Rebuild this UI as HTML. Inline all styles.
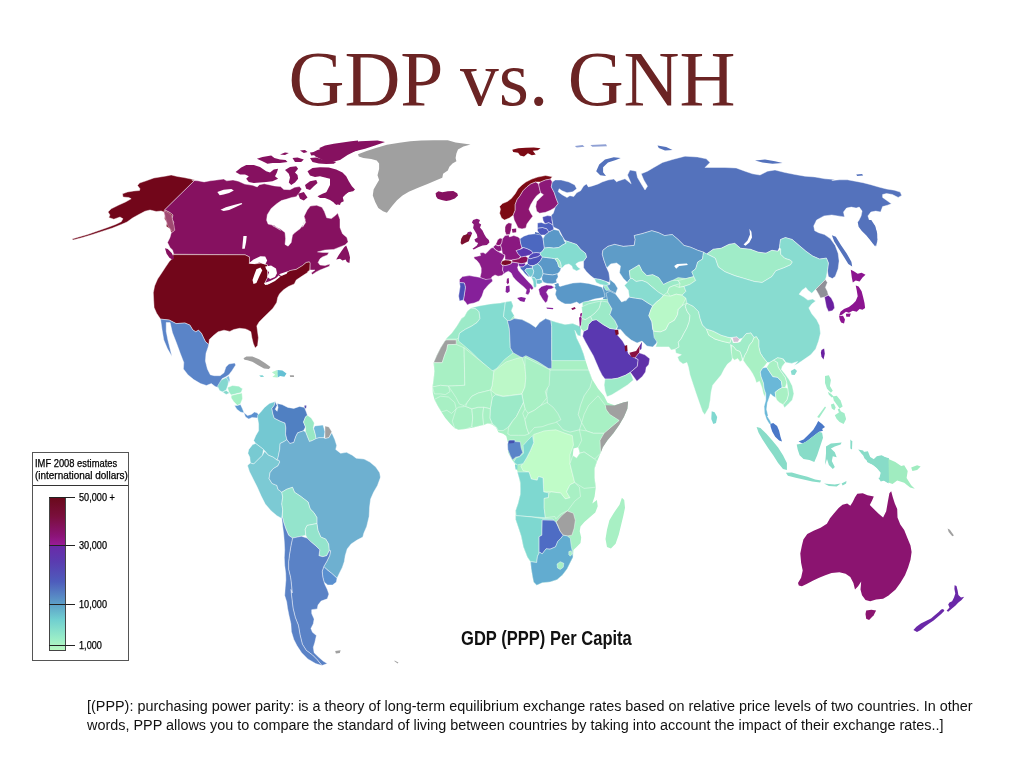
<!DOCTYPE html>
<html lang="en">
<head>
<meta charset="utf-8">
<title>GDP vs. GNH</title>
<style>
html,body{margin:0;padding:0;background:#fff;}
body{width:1024px;height:768px;position:relative;overflow:hidden;font-family:"Liberation Sans",sans-serif;}
#title{position:absolute;left:0;top:33px;width:1024px;text-align:center;font-family:"Liberation Serif",serif;font-size:77.5px;line-height:92px;color:#6b2424;white-space:nowrap;}
#map{position:absolute;left:0;top:0;width:1024px;height:768px;filter:blur(0.35px);}
#legend{position:absolute;left:32px;top:452px;width:97px;height:209px;border:1px solid #555;box-sizing:border-box;background:#fff;}
#legend .hd{position:absolute;left:0;top:0;width:95px;height:33px;border-bottom:1px solid #333;font-size:10px;line-height:12px;color:#111;padding:4px 0 0 3px;box-sizing:border-box;white-space:nowrap;}
#legend .ht{position:absolute;left:2px;font-size:10px;line-height:12px;color:#000;white-space:nowrap;transform-origin:0 0;-webkit-text-stroke:0.25px #000;}
#legend .bar{position:absolute;left:16px;top:44px;width:17px;height:154px;border:1px solid #444;box-sizing:border-box;
background:linear-gradient(to bottom,#6a0a1c 0%,#7a0f3c 12%,#8c1478 25%,#981c98 31%,#6a2aa8 31.2%,#5a3cb0 42%,#4e5cbc 55%,#5c9cc8 69%,#70cfd0 80%,#98ecc8 92%,#b8f8c0 100%);}
#legend .tk{position:absolute;left:16px;width:26px;height:1px;background:#222;}
#legend .lb{position:absolute;left:46px;font-size:10.4px;line-height:12px;color:#000;white-space:nowrap;-webkit-text-stroke:0.25px #000;transform-origin:0 50%;transform:scaleX(0.88);}
#cap{position:absolute;left:461px;top:626.5px;font-size:19.5px;line-height:22px;font-weight:bold;color:#111;white-space:nowrap;transform-origin:0 0;transform:scaleX(0.849);}
.note{position:absolute;left:87px;font-size:14px;line-height:19px;color:#111;white-space:nowrap;transform-origin:0 0;}
</style>
</head>
<body>
<div id="title">GDP vs. GNH</div>
<svg id="map" width="1024" height="768" viewBox="0 0 1024 768" stroke-linejoin="round">
<polygon fill="#9ceac8" points="582.6,302 608,299.1 615.8,324.5 592.3,324.5 582.6,314.7"/>
<polygon fill="#5e9cc8" points="603.1,284.4 614.8,284.4 615.8,299.1 603.1,299.1"/>
<polygon fill="#a8f0c4" points="655,272 700,272 700,300 690,306 655,300"/>
<polygon fill="#72061a" stroke="#ffffff" stroke-opacity="0.6" stroke-width="0.7" points="195,180 190,178.8 183.8,177.5 177.5,176.5 171.2,175 166.2,176 160,177 153.8,178 146.2,180.8 139.5,183 137.5,185.5 140,188.8 139.5,190.5 133.8,191 127.5,192 122.5,193.8 123,197 128.8,197.5 131.2,198.8 125.5,202 118.8,205 111.2,208.8 108,212 110,215 108.8,217.5 113.8,219.2 120,217 123,218.8 121.2,221.8 115.5,224.5 107.5,227.5 97.5,231 87.5,234.5 78.8,237 72,239 73,240 82.5,237.5 92.5,234.5 102.5,231.2 112.5,228 121.2,224.5 127,222 132.5,218 138.8,214.5 145,211.2 150,210 156.2,211.5 161.2,211 163.8,212 165,215 164.5,218.8 167,222.5 166.2,226.2 170,228.8 171.2,232.5 173.8,233 174.5,230 173,226.2 173.8,222.5 172,218.8 173,215 170,212.5 166.2,210.5 164.5,210"/>
<polygon fill="#861160" stroke="#ffffff" stroke-opacity="0.6" stroke-width="0.7" points="191.9,180.3 197.8,180.8 204.1,181.9 210.3,180.8 216.6,180 223.6,179.1 226.7,180.8 233,180 238.4,181.2 244.7,184.1 252.5,185.3 257.2,186.9 259.5,184.7 264.2,183.8 268.9,184.7 274.4,185.9 280.6,186.6 283.8,189.4 290,189.7 294.7,187.3 299.4,186.6 301.7,188.9 299.4,192.8 296.2,196.7 291.6,197.5 286.9,199.1 281.4,200.6 276.7,203.8 271.2,208.4 267.3,214.7 266.6,220.2 268.1,224.1 274.4,225.6 280.6,230.3 272.5,225.6 280,228.8 285,232.5 285.6,238.8 285,244.4 288.1,246.2 291.2,242.5 292.5,235 295,232.5 300,228.8 303.8,223.8 305,218.8 302.5,227.2 305.6,222.5 304.1,216.2 307.2,210 310.3,206.1 316.6,205.3 322,207.2 324.4,211.6 326.7,217.8 331.4,218.6 335.3,215.5 337.7,213.1 340,219.4 340,227.5 342.5,233.8 346.9,237.5 348.1,241.9 345,245 340,246.9 333.8,249.4 325,250 317.5,251.9 323.1,252.5 328.8,252.5 327.5,255 322.5,256.9 320,258.8 318.1,262.5 320,265 325,265.6 330,264 329.4,266.2 325,268.1 320,270 316.2,271.9 312.5,274.4 311.2,273.1 315,270 310,270 310,263.1 309.4,261.9 306.2,262.5 302.5,265.6 296.2,269.4 290,270.6 285.6,273.1 280,276.2 278.1,277.5 272.5,281.2 267.5,284.4 264.4,283.8 267.5,277.5 267.5,267.5 267.5,265 266.2,264.4 261.2,263.1 255,263.8 249.4,263.1 249.4,256.9 245,254.8 173.8,254.2 172.5,250 170,247.5 167.5,242.5 170,237.5 171.2,233 174.5,230 173,226.2 173.8,222.5 172,218.8 173,215 170,212.5 166.2,210.5 164.5,210 195,180"/>
<polygon fill="#72061a" stroke="#ffffff" stroke-opacity="0.6" stroke-width="0.7" points="173.2,254.6 172.2,258.6 169.3,261.5 165.4,267.3 161.5,273.2 157.6,279.1 154.6,285.9 153.3,292.7 153.7,300.5 154.1,307.4 156.6,313.2 160.5,319.1 169.3,320.1 176.1,323.6 184.9,323 189.8,325 192.7,329.8 195.7,331.8 198.6,330.2 201.5,333.4 203.5,337.7 205.4,341.6 208.8,344.5 209.3,339.6 213.2,335.7 218.1,331.8 224,330.2 229.8,331.4 233.8,329.5 239.6,328.3 245.5,328.9 248.4,330.2 250.9,331.8 251.9,337.7 253.3,343.5 255.2,348 257.6,345.5 258.4,337.7 257.6,331.8 256.8,325.9 259.1,322 263,318.1 267.9,313.2 272.8,308.4 276.7,302.5 277.7,297.6 279.6,293.7 283.6,289.8 288.4,286.5 294.3,283.9 296.2,280 302.1,276.1 308,272.2 307.5,271.9 309.8,270 310,263.1 309.4,261.9 306.2,262.5 302.5,265.6 296.2,269.4 290,270.6 285.6,273.1 280,276.2 278.1,277.5 272.5,281.2 267.5,284.4 264.4,283.8 267.5,277.5 267.5,267.5 267.5,265 266.2,264.4 261.2,263.1 255,263.8 249.4,263.1 249.4,256.9 245,254.8"/>
<polygon fill="#ffffff" points="248.6,263.5 253.5,259.6 260.4,256.2 265.2,256.6 267.2,260.5 265.2,264.5 259.4,262.5 254.5,264.1"/>
<polygon fill="#ffffff" points="256.4,269.3 260.4,267.4 262.3,270.3 259.4,276.2 256.4,283 253.5,284 252.5,280.1 254.5,274.2"/>
<polygon fill="#ffffff" points="265.2,266.4 271.1,265.4 276,268.4 277,273.2 275,277.1 270.1,279.1 267.2,277.1 269.1,272.3 266.2,269.3"/>
<polygon fill="#ffffff" points="264.3,283 270.1,281.1 276,278.1 278.9,275.2 279.9,277.1 275,281.1 269.1,284 265.2,285"/>
<polygon fill="#ffffff" points="278.9,274.2 284.8,272.3 287.7,271.3 286.7,273.8 281.8,275.8"/>
<polygon fill="#ffffff" points="243.4,236.1 246.7,236.1 246.1,242 244.7,248.8 242.2,248.8 242.8,242"/>
<polygon fill="#861160" points="346.2,245.6 348.8,252.5 350,257.5 349.4,263.1 346.9,261.9 345.6,259.4 342.5,260.6 340,258.8 336.2,259.4 338.8,255 341.9,250.6 344.4,246.9"/>
<polygon fill="#5a84c8" stroke="#ffffff" stroke-opacity="0.6" stroke-width="0.7" points="160.5,319.1 160.7,320.1 162.1,330 163.8,340 167.5,348.8 172,356.6 170.1,348.8 167.9,340 166.2,331.2 166.2,322.4 170.1,322.6 172.4,332.6 176.3,342.5 180.4,353.7 183.8,362.5 183.4,368.9 187.9,374.8 193.7,379.6 200.5,383.6 206.4,385.5 211.3,383.6 215.2,386.5 218.1,387.5 220.5,383.6 222,378.7 225.9,376.7 228.9,374.8 231.8,370.9 235.7,365 234.7,363 228.9,364 225.9,367 224,372.8 220.1,375.7 214.2,375.7 210.3,374.8 207.4,368.9 205.4,361.1 206,353.3 208,347.4 208.8,344.5 205.4,341.6 203.5,337.7 201.5,333.4 198.6,330.2 195.7,331.8 192.7,329.8 189.8,325 184.9,323 176.1,323.6 169.3,320.1"/>
<polygon fill="#a0a0a0" points="243.5,358.2 246.4,356.6 252.3,356.6 259.1,359.3 265,362.9 270.5,367.1 268.9,368.9 264,368.5 258.2,365.2 252.3,361.7 247.4,360.3 244.5,359.7"/>
<polygon fill="#a04a72" stroke="#f0c0d8" stroke-opacity="0.8" stroke-width="0.6" points="163.9,210.8 167.8,212.3 171.7,215.5 172.8,220.9 174.1,225.6 174.8,230.3 172.5,232.2 170.2,228.8 167.8,225.6 166.2,220.9 165,216.2"/>
<polygon fill="#861160" points="165,248.3 167.8,249.1 171.7,253 174.1,257.7 172.8,260 169.4,257.7 166.6,253.8"/>
<polygon fill="#ffffff" points="217.3,192 223.6,189.7 231.4,188.9 233.8,190.5 229.1,193.1 223.6,194.4 219.7,195.2"/>
<polygon fill="#ffffff" points="220.5,209.7 225.9,207.2 233.8,205 241.6,203 242.3,204.1 235.3,207.2 229.1,210 223.6,211.1"/>
<polygon fill="#a0a0a0" points="358,154.2 366.6,151.1 375.9,148 386.9,144.8 399.4,142.8 410.3,141.2 421.2,140.6 433.8,140.2 447.8,140.3 455.6,142.5 470.5,144.4 463.4,146.4 458,149.5 456.4,153.4 455.6,158.1 456.4,161.2 452.5,163.6 449.4,166.7 447.8,170.6 443.1,173.8 442.3,177.7 436.9,180 427.5,183.9 418.1,187.8 408.8,191.7 402.5,195.6 397,200.3 392.3,205.8 386.9,212.8 383,211.2 378.3,208.1 375.2,201.9 372.8,195.6 373.6,189.4 376.7,183.9 379.1,180 377.5,175.3 379.1,169.1 379.1,163.6 376.7,160.5 371.2,158.9 363.4,158.1 358.8,156.6"/>
<polygon fill="#861160" points="435.6,193.3 438.4,191.2 442.3,192.2 447.8,191.2 453.3,190.9 457.2,193.3 458,195.6 454.8,198.4 450.2,200.3 446.2,201.1 441.6,200 437.7,198.8 436.1,196.4"/>
<polygon fill="#861160" points="235.6,171.9 241.2,167.5 246.2,165 253.8,165 260,166.9 266.2,171.2 270,172.5 273.8,169.4 278.1,168.8 276.9,172.5 275,176.2 278.1,178.8 272.5,181.2 266.2,181.9 260,182.5 253.8,183.1 248.8,181.9 246.2,178.8 248.8,176.2 245,174.4 240,174.4"/>
<polygon fill="#861160" points="256.9,158.8 262.5,156.9 271.2,155.6 274.4,158.1 280,159.4 285.6,160 287.5,161.9 280,163.1 272.5,163.1 267.5,163.8 262.5,161.2"/>
<polygon fill="#861160" points="280,154.4 285,152.5 288.8,153.1 285,155"/>
<polygon fill="#861160" points="285,170 290,166.9 296.2,166.2 298.1,168.8 295,172.5 297.5,175 298.1,178.8 295,182.5 291.2,185 288.8,182.5 290,177.5 288.8,173.8"/>
<polygon fill="#861160" points="292.5,158.1 297.5,157.5 303.8,159.4 301.2,161.9 295,161.9"/>
<polygon fill="#861160" points="300,150.6 305,150 307.5,151.9 303.8,153.1"/>
<polygon fill="#861160" points="310,152.5 315,151.9 316.2,155 311.2,155.6"/>
<polygon fill="#861160" points="310,158.1 316.2,157.5 322.5,159.4 330,160.6 336.2,161.9 333.8,163.8 326.2,164 318.8,163.5 312.5,161.9"/>
<polygon fill="#861160" points="319.4,148.1 325,145.6 333.8,143.8 342.5,142.5 351.2,141.2 358,140.6 358,150 352.5,151.9 346.2,153.8 340,155.6 335,157.5 330,156.9 325,155.6 321.2,152.5"/>
<polygon fill="#861160" points="307.5,171.2 312.5,168.1 320,167.2 328.8,167.5 336.2,169.4 342.5,172.5 346.2,176.2 348.8,181.2 351.9,186.2 355,189.4 353.1,191.2 348.8,191.9 346.2,193.8 342.5,191.2 337.5,188.8 336.2,185 333.8,181.2 330,178.8 325,177.5 320,176.2 315,176.9 310,175.6"/>
<polygon fill="#861160" points="305,185 310,181.2 316.2,180 317.5,183.1 313.8,186.2 310,190 306.2,188.8"/>
<polygon fill="#861160" points="298.1,193.8 303.8,191.9 307.5,197.5 303.8,200.6 300,198.8"/>
<polygon fill="#861160" points="317.5,196.2 322.5,193.8 328.8,191.2 333.8,190.6 338.8,192.5 342.5,196.2 343.8,201.2 340,203.1 336.2,205 333.8,202.5 330,200 325,198.1 320,198.1"/>
<polygon fill="#861160" points="317.5,150 330,146.2 342.5,143.8 360,141.2 377.5,140.5 385,142 375,145.5 365,148.8 355,151.2 347.5,155 340,160 330,162.5 322.5,160 315,156.2 312.5,152.5"/>
<polygon fill="#861160" points="330,172.5 337.5,171.2 343.8,176.2 347.5,183.8 353.8,190 347.5,192.5 342.5,197.5 340,205 335,203.8 330,197.5 326.2,192.5 330,185"/>
<polygon fill="#84d8d0" stroke="#ffffff" stroke-opacity="0.6" stroke-width="0.7" points="217.5,386.2 221.2,380 226.2,377.5 228.8,380 228,385 226.2,390 222.5,392 219.5,390.5"/>
<polygon fill="#7fc0e0" stroke="#ffffff" stroke-opacity="0.6" stroke-width="0.7" points="226.2,377.5 228.8,375.8 230,380 228.8,383.8 228,380"/>
<polygon fill="#9cecc8" stroke="#ffffff" stroke-opacity="0.6" stroke-width="0.7" points="227.5,387.5 232.5,385.5 238.8,386.2 242.5,388.8 241.2,392.5 236.2,393.8 231.2,395 228.8,392"/>
<polygon fill="#84d8cc" stroke="#ffffff" stroke-opacity="0.6" stroke-width="0.7" points="222.5,392 226.2,390.5 229.5,393 226.2,394.5"/>
<polygon fill="#a4f0c4" stroke="#ffffff" stroke-opacity="0.6" stroke-width="0.7" points="231.2,395.5 236.2,394.2 242,393 242.5,398.8 240.5,403.8 237.5,405.5 233.8,401.8 231.2,398"/>
<polygon fill="#5c98d0" stroke="#ffffff" stroke-opacity="0.6" stroke-width="0.7" points="234.5,405.5 237.5,405.5 240.5,404.5 242.5,408.8 244.2,413 240.5,412 237,409.5"/>
<polygon fill="#5c90d0" stroke="#ffffff" stroke-opacity="0.6" stroke-width="0.7" points="243.8,412.5 247.5,415.5 251.2,414.5 254.5,412 257.5,413 258.8,415.5 257.5,418 252,417.5 248.8,419 245.5,417"/>
<polygon fill="#74d0d0" points="259.2,375.5 262.5,375.2 264.1,376.7 260.9,377.1"/>
<polygon fill="#b4f4cc" points="271.9,372.2 277.1,369.9 278.1,373.6 277.3,377.5 272.3,377.1 275.2,374.8"/>
<polygon fill="#64c0d4" points="277.5,369.9 282.4,370.5 286.5,373.6 284.4,376.7 280.1,375.9 277.7,377.5 277.7,373.6"/>
<polygon fill="#a0a0a0" points="289.8,375.2 293.8,375.2 294.1,377.1 290.2,377.1"/>
<polygon fill="#5a50b0" points="304.5,405.4 306.4,405.4 306.1,408.4 304.5,408"/>
<polygon fill="#74c8d2" stroke="#ffffff" stroke-opacity="0.6" stroke-width="0.7" points="257.6,415.2 260.5,412.3 264.5,407.4 269.3,403.5 275.2,401.5 274.2,405.4 271.9,408.4 272.7,413.2 274.2,418.1 280.1,421.1 285,423 285.9,427.9 285.5,433.8 286.9,439.6 284,441.6 280.1,443.5 279.7,449.4 278.1,457.2 277.1,460.1 273.2,457.2 268.4,455.2 264.5,450.4 259.6,446.4 255.7,443.5 253.7,440.6 255.7,435.7 258.6,430.8 258.6,424 257.6,418.1"/>
<polygon fill="#5080c2" stroke="#ffffff" stroke-opacity="0.6" stroke-width="0.7" points="275.2,401.5 277.1,405.4 275.2,409.3 277.1,411.3 278.1,407.4 277.1,403.5 282,404.5 287.9,407.4 293.8,408.4 299.6,406.4 304.5,407.4 306.4,412.3 307.4,415.2 305.5,417.1 303.5,422 305.5,426.9 303.5,430.8 297.7,432.8 295.7,436.7 293.8,442.5 289.8,443.5 286.9,439.6 285.5,433.8 285.9,427.9 285,423 280.1,421.1 274.2,418.1 272.7,413.2 271.9,408.4 274.2,405.4"/>
<polygon fill="#98e8c4" stroke="#ffffff" stroke-opacity="0.6" stroke-width="0.7" points="307.4,415.2 311.3,418.1 314.3,423 313.3,427.9 315.2,433.8 316.2,438.6 312.3,440.6 309.4,441.6 307.4,436.7 305.5,431.8 305.5,426.9 303.5,422 305.5,417.1"/>
<polygon fill="#70b8d8" stroke="#ffffff" stroke-opacity="0.6" stroke-width="0.7" points="314.8,425.9 323,425 325,431.8 324,437.7 319.1,437.7 316.2,438.6 315.2,433.8 313.7,428.3"/>
<polygon fill="#a0a0a0" stroke="#ffffff" stroke-opacity="0.6" stroke-width="0.7" points="325,425.9 328.9,426.9 331.8,431.8 328.9,437.7 325,438.6 325,431.8"/>
<polygon fill="#78cad2" stroke="#ffffff" stroke-opacity="0.6" stroke-width="0.7" points="248.8,449.4 252.7,444.5 255.7,443.5 259.6,446.4 263.5,449.4 262.5,455.2 257.6,460.1 253.7,464 250.4,463 249.8,457.2 247.9,453.3"/>
<polygon fill="#7ccad4" stroke="#ffffff" stroke-opacity="0.6" stroke-width="0.7" points="247.9,465 250.4,463 253.7,464 257.6,460.1 262.5,455.2 264.5,451.3 268.4,455.2 273.2,457.2 277.1,460.1 278.8,460 279.8,462 277.9,465.9 273,468.8 270,472.7 269.1,478.6 272,483.4 276.9,485.4 277.9,489.3 281.8,492.2 282.7,497.1 281.8,503.9 282.7,509.8 281.8,518.6 276.9,515.7 271,510.8 265.2,503.9 261.2,496.1 257.3,487.3 253.4,479.5 249.5,471.7 247.6,465.9"/>
<polygon fill="#6eb0d0" stroke="#ffffff" stroke-opacity="0.6" stroke-width="0.7" points="289.8,443.5 293.8,442.5 295.7,436.7 297.7,432.8 303.5,430.8 305.5,431.8 307.4,436.7 309.4,441.6 312.3,440.6 316.2,438.6 319.1,437.7 324,437.7 325,438.6 328.9,437.7 331.8,432.8 334.8,439.6 336.7,445.5 335.7,449.4 340.6,453.3 346.5,452.3 352.3,455.2 356.2,458.2 364.1,459.1 369.9,462.1 375.8,467 379.7,472.8 380.7,478.7 380.4,477.6 377.5,485.4 373.6,492.2 370.6,499.1 369.6,506.9 369.1,516.6 366.7,526.4 363.8,533.2 362.8,537.1 357,540.1 351.1,544 347.2,548.9 345.2,555.7 344.3,561.6 342.3,567.4 339.4,573.3 337,578.2 331.6,573.3 326.7,569.4 323.8,566.4 326.7,561.6 329.6,555.7 330.6,550.8 329.2,550.8 328.6,544 325.7,539.1 320.8,537.1 317.9,530.3 316.9,523.5 316.9,517.6 314,512.7 310.1,508.8 308.1,502 300.3,496.1 294.5,492.2 292.5,487.3 286.6,489.3 281.8,492.2 277.9,489.3 276.9,485.4 272,483.4 269.1,478.6 270,472.7 273,468.8 277.9,465.9 279.8,462 278.8,460 277.1,460.1 278.1,457.2 279.7,449.4 280.1,443.5 284,441.6 286.9,439.6"/>
<polygon fill="#94e4cc" stroke="#ffffff" stroke-opacity="0.6" stroke-width="0.7" points="281.8,492.2 286.6,489.3 292.5,487.3 294.5,492.2 300.3,496.1 308.1,502 310.1,508.8 314,512.7 316.9,517.6 316.9,523.5 312,524.5 307.1,525.4 305.2,529.3 305.8,535.2 301.3,536.2 297.4,537.1 292.5,538.1 288.6,535.2 285.7,528.4 283.7,522.5 282.3,516.6 282.7,509.8 281.8,503.9 282.7,497.1"/>
<polygon fill="#94e4cc" stroke="#ffffff" stroke-opacity="0.6" stroke-width="0.7" points="305.8,535.2 305.2,529.3 307.1,525.4 312,524.5 316.9,523.5 317.9,530.3 320.8,537.1 325.7,539.1 328.6,544 329.2,550.8 326.7,555.7 322.8,556.7 318.9,555.7 319.8,549.8 315.9,545.9 311.1,542 307.1,538.1"/>
<polygon fill="#5a90d0" stroke="#ffffff" stroke-opacity="0.6" stroke-width="0.7" points="323.8,566.4 326.7,569.4 331.6,573.3 337,578.2 336.4,582.1 332.5,585 327.7,585 324.1,582.1 322.8,577.2 322.2,571.3"/>
<polygon fill="#5a82c6" stroke="#ffffff" stroke-opacity="0.6" stroke-width="0.7" points="292.5,538.1 297.4,537.1 301.3,536.2 307.1,538.1 311.1,542 315.9,545.9 319.8,549.8 318.9,555.7 322.8,556.7 326.7,555.7 329.2,550.8 330.6,550.8 329.6,555.7 326.7,561.6 323.8,566.4 322.2,571.3 322.8,577.2 324.1,582.1 325,584.7 327.3,589.4 328.9,594.1 327.3,598.8 321.1,601.1 318,605 317.2,608.9 311.7,609.7 311.7,613.6 314.1,619.1 313.3,623.8 310.9,628.4 312.5,632.3 316.4,635.5 314.8,642.5 313.3,647.2 314.1,652.7 318.8,657.3 323.4,661.2 327.3,663.6 321.9,665.6 317.2,659.7 312.5,655 306.2,650.3 302.3,644.1 300,634.7 298.4,625.3 295.3,617.5 293,608.1 291.9,598.8 290.9,589.4 292.1,592.8 291.5,585 290.5,577.2 288.6,569.4 288.6,561.6 289.6,553.8 290.9,545.9"/>
<polygon fill="#5a82c6" stroke="#ffffff" stroke-opacity="0.6" stroke-width="0.7" points="281.8,518.6 282.3,516.6 283.7,522.5 285.7,528.4 288.6,535.2 292.5,538.1 290.9,545.9 289.6,553.8 288.6,561.6 288.6,569.4 290.5,577.2 291.5,585 292.1,592.8 290.9,589.4 291.9,598.8 293,608.1 295.3,617.5 298.4,625.3 300,634.7 302.3,644.1 306.2,650.3 312.5,655 317.2,659.7 321.9,665.6 315.6,663.6 307.8,658.9 301.6,652.7 296.9,645.6 293.8,639.4 291.4,631.6 290.9,623.8 289.1,615.9 287.5,608.1 286.7,601.9 284.7,595.6 285.2,587.8 285.9,580 285.7,573.3 284.7,565.5 284.3,557.7 284.7,549.8 284.3,542 283.7,534.2 282.7,526.4"/>
<polygon fill="#a0a0a0" points="335.2,651.1 340.6,650.3 339.8,653.1 335.9,653.4"/>
<polygon fill="#a0a0a0" points="394.5,660.5 398.4,662.5 397.7,663.6 394.5,661.2"/>
<polygon fill="#7c0a14" stroke="#ffffff" stroke-opacity="0.6" stroke-width="0.7" points="500.5,209.3 499.6,206.4 502.5,203.5 507.4,201.5 511.3,198.6 515.2,193.7 518.1,188.8 522,184.9 525.9,182 531.8,179.1 537.7,177.1 545.5,175.5 552.3,176.7 550.4,179.1 545.5,180 540.6,182 535.7,182 530.8,183.9 526.9,186.9 523,190.8 520.1,195.7 517.1,199.6 515.2,204.5 515.2,210.3 513.2,215.2 509.3,218.1 504.5,220.1 501.5,218.1 499.6,213.2"/>
<polygon fill="#8c1570" stroke="#ffffff" stroke-opacity="0.6" stroke-width="0.7" points="515.2,204.5 517.1,199.6 520.1,195.7 523,190.8 526.9,186.9 530.8,183.9 535.7,182 538.6,183.9 539.6,188.8 540.6,192.7 536.7,195.7 533.8,199.6 530.8,204.5 528.9,209.3 530.8,213.2 532.8,216.2 529.8,220.1 526.9,224 525.9,227.9 522,228.9 518.1,227.9 516.2,224 514.2,220.1 513.2,215.2 515.2,210.3"/>
<polygon fill="#8c1878" stroke="#ffffff" stroke-opacity="0.6" stroke-width="0.7" points="538.6,183.9 540.6,182 545.5,180 550.4,179.1 552.3,182 551.3,186.9 554.3,192.7 556.2,198.6 558.2,203.5 555.2,207.4 550.4,210.3 545.5,212.3 539.6,213.2 536.7,211.3 535.7,206.4 536.7,201.5 540.6,197.6 543.5,194.7 540.6,192.7 539.6,188.8"/>
<polygon fill="#7c0a14" points="512.3,149.8 518.1,148.2 525.9,147.8 533.8,147.4 540.6,148.2 537.7,150.2 532.8,150.7 535.7,154.6 531.8,155.2 527.9,153.3 524,156.6 520.1,155.6 518.1,152.7 513.2,152.1"/>
<polygon fill="#8a1878" points="473.1,220 476.9,218.8 480,220 478.8,223.1 481.2,224.4 480,227.5 482.5,230.6 484.4,234.4 486.2,237.5 488.8,240 489.4,242.5 486.9,245 482.5,245.6 478.1,247.2 473.8,249.4 472.5,248.8 476.9,245.6 478.1,243.1 475.6,241.9 474.4,239.4 477.5,237.5 476.9,234.4 475,231.2 473.1,228.1 473.8,224.4 471.9,222.5"/>
<polygon fill="#7c1030" points="460.6,243.1 461.2,238.8 463.1,235.6 466.2,234.4 468.8,231.9 471.9,232.8 471.2,235.6 470,238.1 468.8,241.2 465,243.1 461.9,244.8"/>
<polygon fill="#8a1878" points="467.5,232.2 470.6,231.5 472.2,233.5 470.6,235 468.1,234.8"/>
<polygon fill="#8a1c88" stroke="#ffffff" stroke-opacity="0.6" stroke-width="0.7" points="473.8,256.9 477.5,256.2 480.6,255.6 480,253.1 483.1,252.5 485.6,253.8 488.8,250.6 491.2,248.1 493.1,247.5 495.6,250 498.8,251.9 502.5,253.8 505,255 503.8,258.1 501.9,261.2 501.2,263.8 503.1,266.2 502.5,270 504.4,273.1 501.9,275.6 498.1,276.2 495,275 491.9,276.9 490.6,280.6 486.9,280 483.1,278.8 480,277.5 481.2,272.5 481.2,268.1 479.4,263.8 476.9,260.6 474.4,258.8"/>
<polygon fill="#8a1c88" points="506.9,278.8 508.8,278.1 509,282.5 507.8,284.4 506.6,282.5"/>
<polygon fill="#86209a" points="506,286.2 509.4,285.6 509.8,291.2 507.5,293.1 505.6,291.9"/>
<polygon fill="#8a1070" stroke="#ffffff" stroke-opacity="0.6" stroke-width="0.7" points="497.5,240 500,238.1 502.5,238.8 501.9,242.5 500.6,245 498.1,245.6 495.6,244.4 496.9,241.9"/>
<polygon fill="#8a1880" stroke="#ffffff" stroke-opacity="0.6" stroke-width="0.7" points="493.1,246.9 495.6,244.8 498.1,245.9 500.6,245.2 501.5,248.1 501.9,250.6 498.8,251.5 495.6,249.8"/>
<polygon fill="#8a1880" stroke="#ffffff" stroke-opacity="0.6" stroke-width="0.7" points="502.5,238.8 505,235.6 508.8,235 509.4,236.9 513.8,235.6 518.1,236.9 520,238.8 520.6,243.1 521.9,247.5 520,249.4 516.2,250.6 518.1,253.8 520.6,256.2 518.8,258.8 515.6,259.4 511.9,260 508.1,260 505,259.8 505,255 502.5,253.8 501.9,250.6 501.5,248.1 500.6,245.2 501.9,242.5"/>
<polygon fill="#8a1570" stroke="#ffffff" stroke-opacity="0.6" stroke-width="0.7" points="505,226.9 506.2,224.4 508.8,222.8 511.9,223.5 511.5,226.9 511,230.6 509.8,234.4 506.2,234.8 505,231.2"/>
<polygon fill="#8a1570" points="511.9,229 516.2,228.5 516.2,232.2 512.5,232.8"/>
<polygon fill="#7c0a28" stroke="#ffffff" stroke-opacity="0.6" stroke-width="0.7" points="501.9,261.2 505,260 508.8,260.2 511.9,261.2 511.2,263.8 508.1,265 505,265.6 502.5,265 501,263.8"/>
<polygon fill="#8a1058" stroke="#ffffff" stroke-opacity="0.6" stroke-width="0.7" points="511.9,260 515.6,259.4 518.8,258.8 521.2,256.9 525.6,256.2 528.1,258.1 527.5,261.2 525,263.1 521.2,263.8 518.1,263.1 515,262.5 512.1,262.2"/>
<polygon fill="#5a38b0" stroke="#ffffff" stroke-opacity="0.6" stroke-width="0.7" points="516.2,250.6 520,249.4 523.8,247.5 527.5,248.8 531.2,250.6 533.1,253.1 530,255 525.6,256.2 521.2,256.9 518.1,253.8"/>
<polygon fill="#4c68c0" stroke="#ffffff" stroke-opacity="0.6" stroke-width="0.7" points="520,238.8 523.8,236.2 528.8,234.4 535,233.8 541.2,235 543.1,238.8 543.8,243.8 544.4,248.1 542.5,251.2 540,253.1 536.2,252.5 533.1,253.1 531.2,250.6 527.5,248.8 523.8,247.5 521.9,247.5 520.6,243.1"/>
<polygon fill="#5048b8" stroke="#ffffff" stroke-opacity="0.6" stroke-width="0.7" points="530,255 533.1,253.1 536.2,252.5 540,253.1 540.6,255 537.5,256.9 533.8,257.8 530.6,258.8 528.1,258.1"/>
<polygon fill="#4c50b8" stroke="#ffffff" stroke-opacity="0.6" stroke-width="0.7" points="528.1,258.1 530.6,258.8 533.8,257.8 537.5,256.9 540.6,255 542.5,256.9 540.6,260.6 537.5,263.8 533.8,265.6 530,265.6 527.5,263.8 527.5,261.2"/>
<polygon fill="#6a28a8" stroke="#ffffff" stroke-opacity="0.6" stroke-width="0.7" points="518.1,263.1 521.2,263.8 525,263.1 525.6,265 523.1,266.9 520,266.9 518.5,265"/>
<polygon fill="#4c68c0" stroke="#ffffff" stroke-opacity="0.6" stroke-width="0.7" points="520,266.9 523.1,266.9 525.6,265 527.5,263.8 530,265.6 532.5,266.2 532.5,268.1 528.8,268.5 526.2,268.8 525,270.6 527.5,273.8 530,276.9 528.1,276.5 525,273.8 522.5,270.6 520.6,268.8"/>
<polygon fill="#74c8d0" stroke="#ffffff" stroke-opacity="0.6" stroke-width="0.7" points="526.2,268.8 528.8,268.5 532.5,268.1 533.8,271.2 533.1,274.4 531.2,276.9 530,276.9 527.5,273.8 525,270.6"/>
<polygon fill="#86209a" stroke="#ffffff" stroke-opacity="0.6" stroke-width="0.7" points="502.5,265 505,265.6 508.1,265 511.2,263.8 512.1,262.2 515,262.5 518.1,263.1 518.5,265 517.5,267.5 518.5,270.6 521.2,273.8 524.8,277.8 528.1,281.5 531.9,285.2 533.5,288.1 531.9,290 530,288.5 530,291.9 528.1,295 525.6,293.8 526.5,289.8 523.8,286.9 520.2,284 516.2,280.6 513.1,276.9 511.2,273.1 508.5,271.2 505.6,272.5 504.4,273.8 502.5,270 503.1,266.2"/>
<polygon fill="#6cb8d0" stroke="#ffffff" stroke-opacity="0.6" stroke-width="0.7" points="532.5,266.2 537.5,263.8 540.6,266.2 542.5,270 543.1,273.8 541.9,276.9 539.4,279.4 536.2,280 534.4,277.5 531.2,276.9 533.1,274.4 533.8,271.2 532.5,268.1"/>
<polygon fill="#5a98c8" stroke="#ffffff" stroke-opacity="0.6" stroke-width="0.7" points="540.6,260.6 542.5,256.9 546.2,257.5 551.2,258.1 555,258.8 557.5,262.5 558.8,266.9 561.2,268.1 560,271.2 557.5,273.8 552.5,275 547.5,274.4 543.1,273.8 542.5,270 540.6,266.2 537.5,263.8"/>
<polygon fill="#5a98c8" stroke="#ffffff" stroke-opacity="0.6" stroke-width="0.7" points="543.1,273.8 547.5,274.4 552.5,275 557.5,273.8 558.1,276.9 556.2,280 556.9,282.5 552.5,283.8 547.5,283.5 543.8,282.5 541.9,280 541.9,276.9"/>
<polygon fill="#7cd4d0" stroke="#ffffff" stroke-opacity="0.6" stroke-width="0.7" points="533.1,281.2 531.2,276.9 534.4,277.5 536.2,280 536.5,283.8 536.5,286.2 535,288.1 533.5,286.2"/>
<polygon fill="#70c0d0" stroke="#ffffff" stroke-opacity="0.6" stroke-width="0.7" points="536.2,280 539.4,279.4 541.9,280 542.5,282.5 539.4,284 536.5,283.8"/>
<polygon fill="#a4ecc8" stroke="#ffffff" stroke-opacity="0.6" stroke-width="0.7" points="555,258.8 557.5,258.1 560,261.2 561.2,265 561.2,268.1 558.8,266.9 557.5,262.5"/>
<polygon fill="#5a98c8" stroke="#ffffff" stroke-opacity="0.6" stroke-width="0.7" points="543.1,238.8 545,235 548.8,231.9 553.8,229.4 558.8,230.6 560.6,234.4 563.1,237.5 564.4,241.2 566.2,243.1 562.5,245 558.8,247.5 553.8,248.1 548.8,247.5 544.4,248.1 543.8,243.8"/>
<polygon fill="#4c58bc" stroke="#ffffff" stroke-opacity="0.6" stroke-width="0.7" points="537.5,228.1 542.5,227.5 546.9,228.8 548.8,231.9 545,235 541.2,235 538.8,233.1 537.5,230.6"/>
<polygon fill="#4c60c0" stroke="#ffffff" stroke-opacity="0.6" stroke-width="0.7" points="537.5,223.1 541.2,222.5 545,223.8 548.8,222.5 553.1,225 553.8,229.4 548.8,231.9 546.9,228.8 542.5,227.5 537.5,228.1"/>
<polygon fill="#4c50b8" stroke="#ffffff" stroke-opacity="0.6" stroke-width="0.7" points="542.5,216.9 547.5,215.6 552.5,216.2 551.9,220 553.1,225 548.8,222.5 545,223.8 543.1,220.6"/>
<polygon fill="#5472bc" points="535,231.9 538.8,233.1 541.2,235 535,233.8"/>
<polygon fill="#a8f0c4" points="467.3,311.2 471.2,307.9 479.1,305.9 490.8,303.9 500.5,303 505.4,302 511.3,301 513.2,305.9 511.3,310.8 514.2,315.7 514.2,318.6 522,319.6 529.8,323.5 535.7,327.4 539.6,322.5 545.5,318.6 550.9,320.5 557.2,322.5 565,324.5 572.8,323.5 577.7,325.4 579.6,326.4 581,327.4 580.6,336.2 577.7,335.2 574.8,330.3 576.7,338.1 580.6,345.9 583.6,353.8 585.5,360.6 588.4,369.4 588.7,370 592.3,379.4 598.1,388.7 604,395.8 607.5,402.8 614.5,405.2 623.9,402.3 628.1,401.6 627.4,408.7 623.9,416.9 619.2,425.1 613.4,433.3 607.5,440.3 602.8,447.3 600.5,453.2 597,461.4 594.6,468.4 594.6,477.8 595.8,487.2 594.6,496.6 592.3,503.6 596.9,500 597.7,506.2 595.3,512.5 589.8,517.2 584.4,521.9 580.5,526.6 579.7,531.2 581.2,537.5 580.5,543 576.6,546.9 573.4,550 573.1,557 570.3,562.5 567.2,568.8 562.5,575 557,579.7 550,582 542.2,582.8 536.7,585.2 533.6,582 532.5,576.6 531.2,568.8 530.5,561.7 527.3,557 523.4,546.9 521.1,535.9 518,526.6 515.6,519.5 515.6,515.6 515.6,510.6 518,503.6 520.3,494.2 520.8,489.5 519.6,480.2 517.3,470.8 514.9,463.7 511.4,459.1 507.9,452 508.6,445 506.7,438 507.8,441.6 506.2,436.1 503.1,433.8 498.4,432.2 496.1,427.5 492.2,424.4 487.5,423.6 481.2,425.6 473.4,427.5 465.6,429.1 458.6,429.8 454.7,428.3 450,423.6 445.3,418.1 441.4,411.9 437.5,405.6 434.4,399.4 432.8,393.1 432.5,386.9 433.6,379.1 434.4,371.2 433.6,362.7 436.7,355.6 440.6,347.8 444.5,341.6 446.8,338.1 451.7,333.2 456.6,326.4 461.5,318.6 464.4,316.6"/>
<polygon fill="#9ceac8" stroke="#ffffff" stroke-opacity="0.6" stroke-width="0.7" points="467.3,311.2 471.2,307.9 476.1,308.8 479.1,311.8 480,318.6 477.1,322.5 471.2,326.4 465.4,329.3 459.5,333.2 458.6,338.1 456.6,339.1 445.9,339.1 446.8,338.1 451.7,333.2 456.6,326.4 461.5,318.6 464.4,316.6"/>
<polygon fill="#a0a0a0" stroke="#ffffff" stroke-opacity="0.6" stroke-width="0.7" points="446.1,340 456.2,340 456.2,344.4 447.7,344.7 446.9,349.4 444.5,355.6 442.2,362.7 433.6,362.7 436.7,355.6 440.6,347.8 444.5,341.6"/>
<polygon fill="#84dcd0" stroke="#ffffff" stroke-opacity="0.6" stroke-width="0.7" points="471.2,307.9 479.1,305.9 490.8,303.9 500.5,303 505.4,302 504.5,308.8 503.5,316.6 507.4,320.5 509.3,328.4 509.9,338.1 510.3,347.9 513.2,352.8 504.5,359.6 496.6,368.4 491.8,371.3 486.9,366.4 479.1,359.6 471.2,351.8 463.4,345 458.6,341.1 458.6,338.1 459.5,333.2 465.4,329.3 471.2,326.4 477.1,322.5 480,318.6 479.1,311.8 476.1,308.8"/>
<polygon fill="#84dcd0" stroke="#ffffff" stroke-opacity="0.6" stroke-width="0.7" points="505.4,302 511.3,301 513.2,305.9 511.3,310.8 514.2,315.7 510.3,320.5 507.4,320.5 503.5,316.6 504.5,308.8"/>
<polygon fill="#5a84c8" stroke="#ffffff" stroke-opacity="0.6" stroke-width="0.7" points="510.3,320.5 514.2,318.6 522,319.6 529.8,323.5 535.7,327.4 539.6,322.5 545.5,318.6 550.9,320.5 551.7,326.4 551.7,338.1 551.7,349.8 551.7,368.4 548.4,368.4 537.7,361.6 525.9,355.7 522,357.7 513.2,352.8 510.3,347.9 509.9,338.1 509.3,328.4 507.4,320.5"/>
<polygon fill="#84dcd0" stroke="#ffffff" stroke-opacity="0.6" stroke-width="0.7" points="550.9,320.5 557.2,322.5 565,324.5 572.8,323.5 577.7,325.4 579.6,326.4 581,327.4 580.6,336.2 577.7,335.2 574.8,330.3 576.7,338.1 580.6,345.9 583.6,353.8 585.5,360.6 551.7,360.6 551.7,338.1 551.7,326.4"/>
<polygon fill="#a4ecc8" stroke="#ffffff" stroke-opacity="0.6" stroke-width="0.7" points="547.7,370 588.7,370 592.3,379.4 589.9,387.6 584.1,395.8 580.5,405.2 578.2,414.5 581.7,422.7 579.4,429.8 570,432.1 563,429.8 557.1,422.7 551.2,414.5 547.7,405.2 546.6,393.4 548.4,381.7"/>
<polygon fill="#c0fcc8" stroke="#ffffff" stroke-opacity="0.6" stroke-width="0.7" points="533.7,434.5 544.2,430.9 555.9,429.8 565.3,433.3 572.3,435.6 573.5,445 570,454.4 570,463.7 572.3,473.1 574.7,482.5 570,484.8 566.5,491.9 570,497.7 565.3,498.9 560.6,493 551.2,491.9 543.7,491.9 543,477.8 538.4,476.6 537.2,480.2 531.3,479 529,472 523.1,470.8 520.8,466.1 526.6,457.9 530.2,450.9 533.7,442.7"/>
<polygon fill="#bcf8c8" stroke="#ffffff" stroke-opacity="0.55" stroke-width="0.7" points="493.8,371.2 492.2,385.3 490.6,390 495.3,393.9 503.1,396.2 509.4,395.5 515.6,394.7 521.9,393.9 525,386.9 525.8,377.5 525,366.6 521.9,357.2 515.6,358.8 506.2,361.9"/>
<polygon fill="#a8f0c4" stroke="#ffffff" stroke-opacity="0.55" stroke-width="0.7" points="525,357.2 550,369.7 549.2,385.3 545.3,391.6 546.9,397.8 540.6,405.6 534.4,410.3 528.1,413.4 525,408.8 523.4,402.5 521.9,393.9 525,386.9 525.8,377.5 525,366.6"/>
<polygon fill="#9ceac8" stroke="#ffffff" stroke-opacity="0.6" stroke-width="0.7" points="492.2,397.8 495.3,394.7 503.1,396.6 509.4,395.8 515.6,395 521.9,394.2 523.4,402.5 520.3,408.8 516.4,416.6 512.5,421.2 507.8,427.5 503.1,430.6 498.4,430.6 496.1,426.7 492.2,423.6 489.8,418.1 490.3,408.8"/>
<polygon fill="#a8f0c4" stroke="#ffffff" stroke-opacity="0.55" stroke-width="0.7" points="523.4,402.5 525,408.8 522.7,413.4 525,419.7 526.6,427.5 528.9,433.8 525,435.3 518.8,435.3 510.2,435.3 507.8,433.8 508.6,427.5 512.5,421.2 516.4,416.6 520.3,408.8"/>
<polygon fill="#a8f0c4" stroke="#ffffff" stroke-opacity="0.55" stroke-width="0.7" points="528.1,413.4 534.4,410.3 540.6,405.6 546.9,402.5 553.1,407.2 557.8,413.4 560.9,419.7 554.7,422.8 548.4,424.4 542.2,426.7 534.4,427.5 528.9,433.8 526.6,427.5 525,419.7"/>
<polygon fill="#a8f0c4" stroke="#ffffff" stroke-opacity="0.55" stroke-width="0.7" points="433.6,362.7 442.2,362.7 444.5,355.6 446.9,349.4 447.7,344.7 456.2,344.4 464.1,347.8 464.8,385.3 448.4,386.1 440.6,385.3 434.4,386.9 432.5,386.9 433.6,379.1 434.4,371.2"/>
<polygon fill="#a8f0c4" stroke="#ffffff" stroke-opacity="0.55" stroke-width="0.7" points="464.1,347.8 492.2,370.5 493.8,371.2 492.2,385.3 490.6,390 484.4,391.6 478.1,393.1 471.9,396.2 467.2,402.5 464.1,405.6 459.4,404.1 456.2,397.8 453.1,393.1 448.4,386.1 464.8,385.3"/>
<polygon fill="#a8f0c4" stroke="#ffffff" stroke-opacity="0.55" stroke-width="0.7" points="432.5,386.9 440.6,385.3 448.4,386.1 450,391.6 445.3,394.7 440.6,393.9 434.4,393.9"/>
<polygon fill="#a8f0c4" stroke="#ffffff" stroke-opacity="0.55" stroke-width="0.7" points="434.4,399.4 440.6,396.2 448.4,397 454.7,402.5 456.2,408.8 451.6,413.4 446.9,410.3 441.4,411.9 437.5,405.6"/>
<polygon fill="#a8f0c4" stroke="#ffffff" stroke-opacity="0.55" stroke-width="0.7" points="456.2,408.8 458.6,407.2 465.6,406.4 471.9,408.8 472.7,418.1 471.9,426.7 465.6,429.1 458.6,429.8 454.7,428.3 452.3,421.2"/>
<polygon fill="#a8f0c4" stroke="#ffffff" stroke-opacity="0.55" stroke-width="0.7" points="471.9,408.8 478.1,407.2 483.6,407.2 482.8,415 483.6,425.2 481.2,425.6 473.4,427.5 471.9,426.7 472.7,418.1"/>
<polygon fill="#a8f0c4" stroke="#ffffff" stroke-opacity="0.55" stroke-width="0.7" points="467.2,402.5 471.9,396.2 478.1,393.1 484.4,391.6 490.6,390 492.2,397.8 490.3,408.8 483.6,407.2 478.1,407.2 471.9,408.8 465.6,406.4"/>
<polygon fill="#a8f0c4" stroke="#ffffff" stroke-opacity="0.55" stroke-width="0.7" points="483.6,407.2 490.3,408.8 489.8,418.1 492.2,423.6 487.5,423.6 483.6,425.2 482.8,415"/>
<polygon fill="#5a84c8" stroke="#ffffff" stroke-opacity="0.6" stroke-width="0.7" points="509.4,440 514.8,440 515.3,441.6 520.3,441.9 521.1,447.8 522.7,452.5 519.5,456.4 515.6,457.2 512.5,460 510.2,455.6 507.8,449.4 507.5,443.9"/>
<polygon fill="#4450b0" points="508.6,440.8 514.1,440.8 514.1,443.1 508.6,443.4"/>
<polygon fill="#7ed8d0" stroke="#ffffff" stroke-opacity="0.6" stroke-width="0.7" points="523.1,445.5 527.8,440.3 532.5,435.6 533.7,442.7 530.2,450.9 526.6,457.9 523.1,463.7 517.3,464.9 513.7,461.9 516.1,457.9 519.6,456.7 523.6,453.2"/>
<polygon fill="#7ed8d0" stroke="#ffffff" stroke-opacity="0.6" stroke-width="0.7" points="517.3,472 529,472 531.3,479 537.2,480.2 538.4,476.6 543,477.8 543.7,491.9 548.9,493 548.4,497.7 544.2,498.4 544.2,508.3 545.4,517.7 537.2,517.2 527.8,516.5 516.1,515.8 515.6,510.6 518,503.6 520.3,494.2 520.3,482.5"/>
<polygon fill="#7ed8d0" points="514.9,464.9 517.5,464.9 517.3,469.6 515.6,469.6"/>
<polygon fill="#7ed8d0" stroke="#ffffff" stroke-opacity="0.6" stroke-width="0.7" points="515.6,515.6 520.3,515.9 531.2,516.9 541.4,518.4 553.1,519.1 553.9,520.3 542.2,520 541.9,535.2 539.1,536.7 539.1,553.1 537.5,556.2 536.7,562.5 530.5,561.7 527.3,557 523.4,546.9 521.1,535.9 518,526.6 515.6,519.5"/>
<polygon fill="#4e6cc4" stroke="#ffffff" stroke-opacity="0.6" stroke-width="0.7" points="542.2,520 553.9,520.3 556.2,522.7 560.2,531.2 563.3,535.2 560.9,538.3 557.8,541.4 555.5,546.9 550,549.2 546.1,548.8 542.2,553.9 539.8,552.3 539.1,553.1 539.1,536.7 541.9,535.2"/>
<polygon fill="#a0a0a0" stroke="#ffffff" stroke-opacity="0.6" stroke-width="0.7" points="556.2,521.9 561.7,515.6 567.2,510.9 573.4,513.3 575.3,520.3 574.2,528.1 571.9,535.2 567.2,535.9 563.3,535.2 560.2,531.2 557.8,525"/>
<polygon fill="#62acd0" stroke="#ffffff" stroke-opacity="0.6" stroke-width="0.7" points="530.5,561.7 536.7,562.5 537.5,556.2 539.1,553.1 539.8,552.3 542.2,553.9 546.1,548.8 550,549.2 555.5,546.9 557.8,541.4 560.9,538.3 563.3,535.2 567.2,535.9 570.3,538.3 571.1,545.3 572.2,550.8 573.1,557 570.3,562.5 567.2,568.8 562.5,575 557,579.7 550,582 542.2,582.8 536.7,585.2 533.6,582 532.5,576.6 531.2,568.8"/>
<polygon fill="#a8f0c4" stroke="#ffffff" stroke-opacity="0.6" stroke-width="0.7" points="557,564.1 560.2,561.7 563.8,563.3 563.3,567.2 560.2,569.5 557.5,568"/>
<polygon fill="#a8f0c4" stroke="#ffffff" stroke-opacity="0.6" stroke-width="0.7" points="568.8,551.6 571.1,550.8 572.2,553.9 570.3,556.2 568.8,554.7"/>
<polygon fill="#a0a0a0" points="605.2,405.2 614.5,405.6 623.9,402.3 628.1,401.6 627.4,408.7 623.9,416.9 619.2,425.1 613.4,433.3 607.5,440.3 602.8,447.3 600.5,453.2 600,440.3 604,433.3 612.2,426.2 619.2,420.4 609.8,414.5 606.3,409.8"/>
<polygon fill="#a8f0c4" points="621.9,497.7 624.2,500 625,507.8 623.4,515.6 621.1,525 618.8,534.4 615.6,543.8 610.9,548.4 607,546.9 605.5,539.1 607,529.7 609.4,520.3 614.1,512.5 619.5,504.7"/>
<polygon fill="#ffffff" points="573.5,448.5 578.2,447.3 579.8,453.2 576.6,457.9 572.8,455.5"/>
<polygon fill="#a8f0c4" stroke="#ffffff" stroke-opacity="0.55" stroke-width="0.7" points="581.7,422.7 584.1,414.5 588.7,405.2 598.1,395.8 605.2,405.2 606.3,409.8 609.8,414.5 619.2,420.4 612.2,426.2 604,433.3 593.4,433.3 586.4,430.9"/>
<polygon fill="#a8f0c4" stroke="#ffffff" stroke-opacity="0.55" stroke-width="0.7" points="579.4,429.8 586.4,430.9 593.4,433.3 604,433.3 600,440.3 600.5,453.2 594.6,459.1 584.1,452 579.8,453.2 578.2,447.3 581.7,440.3"/>
<polygon fill="#a8f0c4" stroke="#ffffff" stroke-opacity="0.55" stroke-width="0.7" points="570,463.7 572.8,455.5 576.6,457.9 579.8,453.2 584.1,452 594.6,459.1 597,461.4 594.6,468.4 594.6,477.8 595.8,487.2 584.1,488.4 574.7,482.5 572.3,473.1"/>
<polygon fill="#a8f0c4" stroke="#ffffff" stroke-opacity="0.55" stroke-width="0.7" points="548.4,497.7 548.9,493 551.2,491.9 560.6,493 565.3,498.9 570,497.7 566.5,491.9 570,484.8 574.7,482.5 579.4,487.2 580.5,496.6 574.7,501.2 567.7,510.6 560.6,514.1 555.9,518.8 554.8,516.5 545.4,517.7 544.2,508.3 544.2,498.4"/>
<polygon fill="#5a38b0" stroke="#ffffff" stroke-opacity="0.6" stroke-width="0.7" points="583.6,331.3 587.5,329.3 588.4,324.5 592.3,320.5 596.2,319.6 603.1,324.5 609.9,328.4 615.8,329.3 617.7,335.2 622.6,341.1 626.5,347.9 628.5,353.8 632.4,356.7 638.2,359.6 637.3,366.4 630.4,372.3 625.5,375.2 617.7,378.2 611.9,379.1 605,379.1 602.1,375.2 599.2,369.4 596.2,362.5 593.3,355.7 589.4,348.9 585.5,342 582.6,336.2"/>
<polygon fill="#9ceac8" stroke="#ffffff" stroke-opacity="0.6" stroke-width="0.7" points="605,379.1 611.9,379.1 617.7,378.2 625.5,375.2 630.4,372.3 633.4,380.1 627.5,385 619.7,389.9 611.9,394.8 607,396.7 605,390.9 604.1,385"/>
<polygon fill="#9ceac8" stroke="#ffffff" stroke-opacity="0.6" stroke-width="0.7" points="601.1,301 608,302 611.9,308.8 609.9,314.7 614.8,320.5 617.7,326.4 615.8,329.3 609.9,328.4 603.1,324.5 596.2,319.6 592.3,320.5 590.4,316.6 595.3,312.7 599.2,307.9"/>
<polygon fill="#9ceac8" stroke="#ffffff" stroke-opacity="0.6" stroke-width="0.7" points="581.6,306.9 588.4,303.9 596.2,302 601.1,301 599.2,307.9 595.3,312.7 590.4,316.6 585.5,319.6 581.6,318.6 582.2,312.7"/>
<polygon fill="#a4ecc8" stroke="#ffffff" stroke-opacity="0.6" stroke-width="0.7" points="581,324.5 581.6,318.6 585.5,319.6 590.4,316.6 592.3,320.5 588.4,324.5 587.5,329.3 583.6,331.3 580.6,328.4"/>
<polygon fill="#8a1c88" points="579.1,317.6 581,316.6 581.6,318.6 581,324.5 579.8,327.4"/>
<polygon fill="#8a1c88" points="580.2,313.7 582.2,312.7 581.6,316.6 580.2,316.6"/>
<polygon fill="#8a1058" points="571.2,308.4 574.8,306.9 575.7,308.8 572.4,310"/>
<polygon fill="#7c0a28" points="614.8,330.3 618.1,329.3 618.7,334.2 615.8,335.2"/>
<polygon fill="#7c0a28" points="624.6,345.9 627.1,345 627.5,350.8 625.2,351.4"/>
<polygon fill="#5472bc" stroke="#ffffff" stroke-opacity="0.6" stroke-width="0.7" points="552.3,182 555.2,180 561.1,180 568.9,182 574.8,184.9 576.7,188.8 572.8,191.8 567,192.7 562.1,190.8 559.1,188.8 558.2,191.8 562.1,194.7 567,197.6 569.9,195.7 573.8,196.6 576.7,192.7 580.6,190.8 583.6,185.9 586.5,183.9 588.4,186.9 592.3,185.9 598.2,183.9 602.1,182 608,180 613.8,179.1 616.8,182 617.5,181.2 625,178.8 631.2,183.8 627.5,175 630,170 636.2,171.2 637.5,177.5 641.2,183.8 645,190 647.5,186.2 643.8,180 641.2,173.8 647.5,171.2 653.8,167.5 662.5,162.5 672.5,159.5 685,156.2 697.5,157 706.2,158.8 710,162.5 705,167.5 715,167.5 725,167.5 736.2,168 745,171.2 752.5,173.8 760,175 767.5,171.2 775,170 785,172.5 795,174.5 805,176.2 815,177 825,178.8 835,179.5 831.8,180.4 839.6,179.8 847.4,179.8 855.2,181.2 863.1,182.7 870.9,184.7 878.7,187 886.5,189 894.3,190.2 900.2,192.1 901.7,195.4 898.2,197.4 892.4,194.5 886.5,193.5 882.6,194.5 882.6,197.4 886.5,200.3 891.4,203.8 887.5,205.2 882.6,206.6 880.6,212 875.8,211.1 870.9,212 867.9,215.9 869.9,221.8 874.8,225.7 876.7,231.6 877.7,239.4 876.3,246.2 872.8,243.3 868.9,237.4 864,231.6 859.2,225.7 858.2,221.8 861.1,215.9 862.1,211.1 859.2,207.1 856.2,208.1 851.3,207.1 846.5,208.1 843.5,212 844.5,216.9 837.7,215.9 831.8,215 824,215.9 816.6,220 813.7,225.9 814.7,230.7 818.6,232.7 824.5,234.6 830.3,238.6 835.2,245.4 838.1,253.2 839.1,261 838.1,268.8 835.2,276.6 832.3,278.6 828.4,276.6 827.4,270.8 828.4,263 826.4,258.1 819.6,259.1 812.7,256.1 805.9,251.2 799.1,245.4 792.2,239.5 785.4,237.6 780.5,239.5 779.5,247.3 777.7,251.2 771.9,250.3 766,253.2 758.2,252.2 750.4,249.3 740.6,248.3 734.8,243.4 728.9,244.4 721.1,248.3 713.3,249.3 706.4,254.2 703.5,252.2 697.7,250.3 690.8,247.3 684,245.4 678.1,239.5 672.3,234.6 664.5,235.6 658.6,232.7 651.8,230.7 642,233.7 634.2,235.6 635.2,239.5 634.2,245.4 623.4,246.4 614.6,244.4 607.8,246.4 602.9,250.3 602.3,254.2 603.9,260 606.8,267.9 608.9,272.7 609.9,279.5 609.9,282.5 606,281.5 600.2,279.5 594.3,278.6 590.4,275.6 586.5,271.7 583.6,267.8 583.6,261.1 586.5,257.2 585.5,253.3 580.6,249.4 576.7,244.5 570.9,242.5 565,240.6 562.1,235.7 559.1,229.8 553.3,226.9 552.3,221.1 551.3,215.2 553.3,213.2 555.2,207.4 558.2,203.5 556.2,198.6 554.3,192.7 551.3,186.9"/>
<polygon fill="#5472bc" points="596.2,171.2 599.2,164.4 605,159.5 613.8,157.2 620.7,158 615.8,159.9 608,162.5 603.1,167.3 603.1,172.2 606,176.1 600.2,175.2"/>
<polygon fill="#5472bc" points="657.5,145.5 666.2,147 672.5,150 665,150.5 658.8,148"/>
<polygon fill="#5472bc" points="755,160.5 765,159.5 775,161.2 782.5,163 772.5,163.8 762.5,162.5"/>
<polygon fill="#5472bc" points="856.2,174.5 862.1,173.9 863.1,175.5 857.2,176.1"/>
<polygon fill="#5472bc" points="831.9,235.2 835.8,236.8 840.9,245 846.7,253.6 851.4,261.8 852.2,266.5 848.3,264.1 844,257.1 839.1,249.3 834.2,241.5"/>
<polygon fill="#8fa0d4" points="574.8,145.9 582.6,144.9 584.5,146.8 576.7,147.4"/>
<polygon fill="#8fa0d4" points="590.4,144.9 606,144.3 607,146.2 592.3,146.8"/>
<polygon fill="#ffffff" points="743.6,244.4 747.5,240.5 750,234.6 749.4,228.8 751.4,231.7 752,237.6 749.4,242.5 745.5,245.8"/>
<polygon fill="#84dcd0" stroke="#ffffff" stroke-opacity="0.6" stroke-width="0.7" points="544.4,248.1 548.8,247.5 553.8,248.1 558.8,247.5 562.5,245 566.2,243.1 565,240.6 570.9,242.5 576.7,244.5 580.6,249.4 585.5,253.3 586.5,257.2 583.6,261.1 578.7,262.1 575.7,264 577.7,267 580.6,268.9 576.7,270.9 572.8,268.9 571.8,266 568.9,264 565,265 562.1,267.9 561.2,268.1 561.2,265 560,261.2 557.5,258.1 555,258.8 551.2,258.1 546.2,257.5 542.5,256.9 540.6,255 540,253.1 542.5,251.2"/>
<polygon fill="#5a98c8" stroke="#ffffff" stroke-opacity="0.6" stroke-width="0.7" points="554.3,287.3 557.2,284.4 560.1,286.4 565,285 572.8,283 580.6,282.5 588.4,283.4 596.2,285.4 602.1,287.3 604.1,292.2 605,297.1 600.2,298.1 594.3,299.1 588.4,301 583.6,302 579.6,303.9 576.7,302 570.9,303.9 565,303.9 561.1,302 557.2,299.1 555.2,294.2 556.2,290.3"/>
<polygon fill="#5a98c8" points="554.3,284.4 558.2,283 559.1,285.4 556.2,286.4"/>
<polygon fill="#84dcd0" stroke="#ffffff" stroke-opacity="0.6" stroke-width="0.7" points="594.3,278.6 600.2,279.5 606,281.5 609.9,284.4 606,285.4 600.2,284.4 596.2,282.5"/>
<polygon fill="#9ceac8" stroke="#ffffff" stroke-opacity="0.6" stroke-width="0.7" points="603.1,285.4 607,285.8 609.9,290.3 606,290.3"/>
<polygon fill="#5e9cc8" stroke="#ffffff" stroke-opacity="0.6" stroke-width="0.7" points="607,285.4 609.9,284.4 609.9,279.5 614.8,283.4 617.7,288.3 615.8,293.2 611.9,291.2 609.9,290.3"/>
<polygon fill="#86209a" stroke="#ffffff" stroke-opacity="0.6" stroke-width="0.7" points="538.6,289.3 541.6,286.4 546.4,285 551.3,285.4 554.3,287.3 551.3,288.9 548.4,289.3 546.4,292.2 548.4,296.1 547.4,301 545.5,303 542.5,299.1 539.6,294.2"/>
<polygon fill="#86209a" points="546.4,307.5 553.3,307.9 552.9,309.2 547,308.8"/>
<polygon fill="#86209a" stroke="#ffffff" stroke-opacity="0.6" stroke-width="0.7" points="459.5,279.5 462.5,276.6 469.3,275.6 479.1,277.2 485.9,279.5 491.8,278.6 492.7,281.1 487.9,285.4 483.9,290.3 482,296.1 479.1,301 474.2,303 469.3,303.9 467.3,304.9 465.4,302 463.4,300 464.4,294.2 465.4,287.3 464.4,283 459.5,282.5"/>
<polygon fill="#4a50b8" stroke="#ffffff" stroke-opacity="0.6" stroke-width="0.7" points="459.5,282.5 464.4,283 465.4,287.3 464.4,294.2 463.4,300 459.5,301 458.6,296.1 459.5,290.3 460.1,286.4"/>
<polygon fill="#86209a" points="517.1,298.1 521.1,297.1 525.9,298.1 524.4,302 520.1,301"/>
<polygon fill="#5e9cc8" stroke="#ffffff" stroke-opacity="0.6" stroke-width="0.7" points="606,293.2 609.9,291.2 615.8,294.2 621.6,302 626.5,300 625.4,301.1 629.3,297.1 635.2,298.1 642,299.1 647.9,303 652.7,305.9 650.8,309.8 648.8,315.7 651.8,321.6 652.7,329.4 658.6,337.2 656.6,343 652.7,347 646.9,346 642,341.1 637.1,343 631.2,340.1 625.4,335.2 620.5,329.4 616.6,329.4 617.7,326.4 614.8,320.5 609.9,314.7 611.9,308.8 608,302"/>
<polygon fill="#8a1040" points="629.3,352.8 636.1,350.9 640,345 639.1,352.8 635.2,357.7 631.2,356.7"/>
<polygon fill="#6030a8" stroke="#ffffff" stroke-opacity="0.6" stroke-width="0.7" points="639.1,352.8 644.9,354.8 649.8,358.7 648.8,364.5 649.4,364.1 646.2,367.2 645.5,371.9 642.3,376.6 636.9,381.2 630.4,372.3 637.3,366.4 638.2,359.6 635.2,357.7"/>
<polygon fill="#6030a8" points="640,345 642,342.1 641.4,348.9 640,349.9"/>
<polygon fill="#5e9cc8" stroke="#ffffff" stroke-opacity="0.6" stroke-width="0.7" points="602.9,250.3 607.8,246.4 614.6,244.4 623.4,246.4 634.2,245.4 635.2,239.5 634.2,235.6 642,233.7 651.8,230.7 658.6,232.7 664.5,235.6 672.3,234.6 678.1,239.5 684,245.4 690.8,247.3 697.7,250.3 703.5,252.2 702.5,259.1 697.7,262 695.7,268.8 691.8,271.8 693.8,276.6 685.9,278.6 678.1,277.6 672.3,280.5 667.4,282.5 663.5,284.5 658.6,277.6 652.7,274.7 646.9,275.7 642,270.8 639.1,264.9 634.2,267.9 629.3,270.8 630.3,278.6 627.3,282.5 623.4,278.6 619.5,272.7 620.5,265.9 616.6,263 610.7,263.9 606.8,267.9 603.9,260 602.3,254.2"/>
<polygon fill="#ffffff" points="674.2,265.9 677.1,263.9 686.9,263.4 687.9,264.9 679.1,265.9 676.2,268.8"/>
<polygon fill="#9ceac8" stroke="#ffffff" stroke-opacity="0.6" stroke-width="0.7" points="629.3,270.8 634.2,267.9 639.1,264.9 642,270.8 646.9,275.7 652.7,274.7 658.6,277.6 663.5,284.5 667.4,282.5 672.3,280.5 678.1,280.5 680.1,283.5 674.2,285.4 669.3,287.4 667.4,292.3 663.5,295.2 658.6,292.3 652.7,287.4 646.9,282.5 642,280.5 636.1,281.5 632.2,278.6 630.3,278.6"/>
<polygon fill="#88dcd0" stroke="#ffffff" stroke-opacity="0.6" stroke-width="0.7" points="627.3,282.5 630.3,278.6 632.2,278.6 636.1,281.5 642,280.5 646.9,282.5 652.7,287.4 658.6,292.3 663.5,295.2 661.5,298.1 656.6,302 652.7,305.9 647.9,303 642,299.1 635.2,298.1 629.3,297.1 628.3,290.3 624.4,285.4"/>
<polygon fill="#a8f0c4" stroke="#ffffff" stroke-opacity="0.6" stroke-width="0.7" points="678.1,280.5 685.9,278.6 693.8,276.6 695.7,280.5 689.8,284.5 684,286.4 679.1,287.4 680.1,283.5"/>
<polygon fill="#a8f0c4" stroke="#ffffff" stroke-opacity="0.6" stroke-width="0.7" points="669.3,287.4 674.2,285.4 679.1,287.4 684,286.4 685.9,291.3 682,295.2 676.2,294.2 670.3,296.2 667.4,292.3"/>
<polygon fill="#b8f8c8" stroke="#ffffff" stroke-opacity="0.6" stroke-width="0.7" points="652.7,305.9 656.6,302 661.5,298.1 663.5,295.2 670.3,296.2 676.2,294.2 682,295.2 685.9,298.1 682.2,305.5 678.3,309.4 677.5,314.8 674.4,320.3 668.9,323.4 665.8,329.7 660.3,332 653.3,331.2 651.8,321.6 648.8,315.7 650.8,309.8"/>
<polygon fill="#a4ecc8" stroke="#ffffff" stroke-opacity="0.6" stroke-width="0.7" points="655.6,346.9 657.2,342.2 654.1,337.5 653.3,331.2 660.3,332 665.8,329.7 668.9,323.4 674.4,320.3 677.5,314.8 678.3,309.4 682.2,305.5 686.9,303.1 685.3,306.2 686.9,310.9 690,315.6 689.2,321.9 686.9,328.1 683.8,333.6 681.4,338.3 678.3,342.2 679.1,346.9 675.2,349.2 671.2,350 668.9,346.9 661.9,346.9"/>
<polygon fill="#a0ecc8" stroke="#ffffff" stroke-opacity="0.6" stroke-width="0.7" points="686.9,303.1 693.1,306.2 698.6,311.7 700.2,318.8 702.5,325 706.4,328.9 708.8,335.2 715,339.1 722.8,341.4 729.8,343 731.4,338.3 733.8,342.2 740,341.9 742.3,338.3 746.2,333.6 750.9,332.8 754.1,337.5 752.5,341.4 749.4,345.3 747,351.6 744.7,355.5 743.1,360.2 741.6,356.2 740,351.6 736.1,350 733.8,346.9 730.6,344.5 731.4,351.6 733,357 731.4,360.9 727.5,364.1 724.4,368.8 721.2,375 716.6,380.5 712.7,385.2 711.1,392.2 710.3,400 708.8,407.8 704.8,414.8 702.5,411.7 699.4,403.1 696.2,393.8 693.1,384.4 690,375 688.4,367.2 686.9,362.5 683,364.1 679.1,360.9 677.5,357 681.4,354.7 675.9,353.1 675.2,349.2 679.1,346.9 678.3,342.2 681.4,338.3 683.8,333.6 686.9,328.1 689.2,321.9 690,315.6 686.9,310.9 685.3,306.2"/>
<polygon fill="#b0f4c8" stroke="#ffffff" stroke-opacity="0.6" stroke-width="0.7" points="706.4,328.9 713.4,331.2 721.2,335.2 729.1,337.5 731.4,338.3 729.8,343 722.8,341.4 715,339.1 708.8,335.2"/>
<polygon fill="#d4c0d4" stroke="#ffffff" stroke-opacity="0.85" stroke-width="1.2" points="731.9,337.2 737.2,336.4 740,339.1 738.1,342.2 733.4,342.5"/>
<polygon fill="#a8f0c4" stroke="#ffffff" stroke-opacity="0.6" stroke-width="0.7" points="731.4,345.3 733.8,346.9 736.1,350 740,351.6 741.6,356.2 742.3,360.2 740,361.7 737.7,358.6 734.5,360.2 732.2,357.8 731.4,351.6"/>
<polygon fill="#80d8d0" points="711.7,411.3 714.6,412.3 717.2,417.1 716,423 713.3,424 711.3,419.1"/>
<polygon fill="#a0ecc8" stroke="#ffffff" stroke-opacity="0.6" stroke-width="0.7" points="706.4,254.2 713.3,249.3 721.1,248.3 728.9,244.4 734.8,243.4 740.6,248.3 750.4,249.3 758.2,252.2 766,253.2 771.9,250.3 777.7,251.2 780.7,249.3 780.7,254.2 784.6,258.1 790.4,260 792.4,262 790.4,264.9 783.6,267.9 775.8,270.8 771.9,276.6 762.1,282.5 754.3,281.5 744.5,278.6 734.8,275.7 725,271.8 718.2,266.9 715.2,258.1 709.4,255.2"/>
<polygon fill="#88dcd0" stroke="#ffffff" stroke-opacity="0.6" stroke-width="0.7" points="703.5,252.2 709.4,255.2 715.2,258.1 718.2,266.9 725,271.8 734.8,275.7 744.5,278.6 754.3,281.5 762.1,282.5 771.9,276.6 775.8,270.8 783.6,267.9 790.4,264.9 792.4,262 790.4,260 784.6,258.1 780.7,254.2 780.7,249.3 779.5,247.3 780.5,239.5 785.4,237.6 792.2,239.5 799.1,245.4 805.9,251.2 812.7,256.1 819.6,259.1 826.4,258.1 828.4,263 827.4,270.8 826.4,276.6 825.4,279.6 820.5,284.5 815.7,289.3 811.8,293.2 807.9,290.3 805.9,287.4 802,290.3 799.1,294.2 803.9,297.1 807.9,300.1 812.7,299.1 815.7,301.1 811.8,304 808.8,307.9 811.8,313.8 816.6,319.6 819.6,325.5 820.5,333.3 818.6,341.1 815.7,348.9 810.8,354.8 803.9,359.6 798.1,363.6 794.2,365.5 797.7,361.5 791.8,363.4 785.9,362.5 783,358.6 785.3,362.5 782.2,358.6 777.5,357.8 773.6,360.2 769.7,362.5 767.3,362.5 763.4,357.8 760.3,353.1 758.8,346.9 758.8,340.6 756.4,336.7 754.1,337.5 750.9,332.8 746.2,333.6 742.3,338.3 739.2,339.1 736.9,336.7 731.9,337.5 729.1,337.5 721.2,335.2 713.4,331.2 706.4,328.9 702.5,325 700.2,318.8 698.6,311.7 693.1,306.2 686.9,303.1 685.9,298.1 682,295.2 685.9,291.3 684,286.4 689.8,284.5 695.7,280.5 693.8,276.6 691.8,271.8 695.7,268.8 697.7,262 702.5,259.1"/>
<polygon fill="#88dcd0" points="790.8,371.1 794.7,368.8 797,371.1 794.7,375 791.6,374.7"/>
<polygon fill="#6a20a0" points="821.5,349.9 824.1,348.5 824.8,353.8 823.5,359.6 821.5,356.7 820.9,352.8"/>
<polygon fill="#909098" stroke="#ffffff" stroke-opacity="0.6" stroke-width="0.7" points="815.7,289.3 820.5,284.5 825.4,279.6 827.4,282.5 825.4,287.4 827.4,291.3 828.4,295.2 824.5,297.1 820.5,298.1 818.6,294.2"/>
<polygon fill="#6a20a0" stroke="#ffffff" stroke-opacity="0.6" stroke-width="0.7" points="824.5,297.1 828.4,295.2 831.3,298.1 833.8,303 834.6,307.9 832.3,310.8 828.4,311.4 826.4,306.9 825.4,302"/>
<polygon fill="#8c1490" points="850.8,269.8 853.8,271.2 857.7,273.7 861.6,272.7 865.5,274.7 862.5,277.6 859.6,281.5 855.7,280.5 852.8,282.5 851.8,277.6"/>
<polygon fill="#8c1490" points="855.7,285.4 858.6,286.4 861.6,291.3 863.1,297.1 864.5,303 865.1,307.9 862.5,309.8 859.6,308.9 856.7,311.8 852.8,310.8 848.9,312.8 845.9,311.8 842,314.7 839.1,315.7 840.5,311.8 844,308.9 848.9,306.9 852.8,304 855.7,301.1 857.7,296.2 856.7,290.3"/>
<polygon fill="#8c1490" points="845.9,313.8 850.8,313.4 849.8,316.7 846.3,316.7"/>
<polygon fill="#8c1490" points="839.1,316.1 843,315.7 845,319.6 844,323.5 841.1,322.5 839.7,319.6"/>
<polygon fill="#5472bc" points="857.7,222 861.6,220 871.3,220 875.2,225.9 877.2,233.7 876.8,241.5 875.2,246.4 871.3,241.5 866.4,235.6 861.6,230.7 858.6,226.8"/>
<polygon fill="#a8f0c4" stroke="#ffffff" stroke-opacity="0.6" stroke-width="0.7" points="743.1,360.2 744.7,355.5 747,351.6 749.4,345.3 752.5,341.4 754.1,337.5 756.4,336.7 758.8,340.6 758.8,346.9 760.3,353.1 763.4,357.8 767.3,362.5 765,365.6 762.7,368 760.3,371.9 761.1,376.6 763.4,382.8 764.2,389.1 765.8,393.8 765,396.9 763.4,393.8 761.9,387.5 759.5,381.2 756.4,382.8 754.8,378.1 752.5,373.4 749.4,368.8 746.2,364.8"/>
<polygon fill="#6ab8d8" stroke="#ffffff" stroke-opacity="0.6" stroke-width="0.7" points="760.3,371.9 762.7,368 766.6,367.2 769.7,371.9 772.8,376.6 777.5,377.3 781.4,381.2 782.2,387.5 778.3,389.8 775.2,392.2 775.9,397.7 772.8,396.1 770.5,393.8 768.9,398.4 767.3,403.1 766.6,409.4 768.1,415.6 767.4,416.2 770.3,421.1 771.3,424 769.3,424 766.4,419.1 764.5,413.2 764.1,406.4 765.8,400 765.8,393.8 764.2,389.1 763.4,382.8 761.1,376.6"/>
<polygon fill="#a8f0c4" stroke="#ffffff" stroke-opacity="0.6" stroke-width="0.7" points="766.6,367.2 769.7,362.5 773.6,360.2 777.5,362.5 778.3,367.2 781.4,371.9 785.3,377.3 786.9,382.8 785.3,387.5 782.2,387.5 781.4,381.2 777.5,377.3 772.8,376.6 769.7,371.9"/>
<polygon fill="#a0ecc8" stroke="#ffffff" stroke-opacity="0.6" stroke-width="0.7" points="773.6,360.2 777.5,357.8 782.2,358.6 785.3,362.5 782.2,366.4 781.4,369.5 785.3,374.2 789.2,379.7 792.3,385.9 793.9,393.8 792.3,400 788.4,403.9 784.5,407.8 783,404.7 786.9,400 788.4,394.5 787.7,388.3 786.9,382.8 785.3,377.3 781.4,371.9 778.3,367.2 777.5,362.5"/>
<polygon fill="#a8f0c4" stroke="#ffffff" stroke-opacity="0.6" stroke-width="0.7" points="775.9,397.7 775.2,392.2 778.3,389.8 782.2,387.5 785.3,387.5 787.7,388.3 788.4,394.5 786.9,400 783,404.7 779.1,402.3 776.7,400"/>
<polygon fill="#4a78c8" points="770.3,424 773.2,423 777.1,425.9 779.1,430.8 780.5,436.7 782,441.6 779.1,440.6 775.2,436.7 772.3,431.8 770.7,426.9"/>
<polygon fill="#4a78c8" points="798.6,441.6 803.5,439.6 808.4,434.7 813.3,429.8 816.2,425 818.2,421.1 822.1,424 825,426.9 822.1,428.9 823,430.8 819.1,431.8 815.2,434.7 811.3,437.7 806.4,441.6 802.5,443.5"/>
<polygon fill="#88dcc8" points="756.6,426.9 760.5,427.9 766.4,433.8 772.3,440.6 778.1,447.4 783,455.2 786.9,463 786.9,469.9 783,468.9 778.1,463 773.2,455.2 768.4,448.4 762.5,439.6 758.6,432.8"/>
<polygon fill="#88dcc8" points="785.9,472.8 791.8,472.4 799.6,474.8 807.4,476.7 815.2,479.6 821.1,480.6 820.1,482.6 812.3,481.6 803.5,479.6 795.7,477.7 787.9,475.7"/>
<polygon fill="#88dcc8" points="824,483.6 828.9,484.1 834.8,484.5 840.6,483.6 836.7,486.5 828.9,486.1"/>
<polygon fill="#88dcc8" points="841.6,483.6 846.5,481 846.1,483.6 842.6,485.5"/>
<polygon fill="#88dcc8" points="796.7,444.5 802.5,443.5 806.4,441.6 811.3,437.7 815.2,434.7 819.1,431.8 822.1,432.8 823,437.7 821.1,443.5 819.1,449.4 817.2,455.2 814.3,462.1 809.4,460.1 803.5,459.1 799.6,455.2 797.7,449.4"/>
<polygon fill="#88dcc8" points="826,446.4 830.9,443.5 836.7,443.1 841.6,442.5 840.6,444.5 834.8,446.4 830.9,448.4 834.8,452.3 836.7,457.2 832.8,456.2 831.8,461.1 834.8,467 832.8,468.9 828.9,465 827,459.1 825,465 826,453.3"/>
<polygon fill="#88dcc8" points="850.4,439.6 852.3,441.6 852,449.4 850.4,448.4"/>
<polygon fill="#88dcc8" points="858.2,449.4 863.1,450.4 866,455.2 862.1,454.3"/>
<polygon fill="#88dcc8" points="860.2,451.3 866,452.3 869.9,457.2 872.9,460.1 876.8,456.2 881.6,455.2 888.5,459.1 888.5,483.6 883.6,480.6 879.7,476.7 880.7,472.8 876.8,467.9 871.9,464 867,462.1 868,457.2 863.1,455.2"/>
<polygon fill="#88dcc8" points="862,452.3 867.9,451.2 870.2,457 876.1,460.5 880.8,455.9 889,458.2 889,482.8 884.3,480.5 880.8,481.6 878.4,478.1 883.1,475.8 879.6,469.9 873.7,465.2 869.1,462.9 864.4,458.2"/>
<polygon fill="#a0ecc0" points="888.5,459.1 895.3,462.1 901.2,466 904.2,465.2 907.7,471.1 906.6,478.1 911.2,485.2 914.8,488.7 910.1,487.5 904.2,482.8 897.2,480.5 892.5,484 889,482.8"/>
<polygon fill="#a0ecc0" points="911.2,467.6 917.1,465.2 920.6,466.4 917.1,469.9 912.4,471.1"/>
<polygon fill="#a0ecc8" points="825,376.1 828.9,375.2 830.9,380 829.9,385.9 832.8,390.8 830.9,392.7 827,388.8 825,383"/>
<polygon fill="#a0ecc8" points="834.8,415.2 840.6,411.3 844.5,413.2 846.1,419.1 843.6,424 839.6,422 836.7,419.1"/>
<polygon fill="#a0ecc8" points="817.2,417.1 825,406.4 826,407.4 819.1,418.1"/>
<polygon fill="#a0ecc8" points="832.8,396.6 836.7,395.7 840.6,400.5 842.6,406.4 839.6,408.4 836.7,404.5 833.8,400.5"/>
<polygon fill="#a0ecc8" points="827.9,391.8 830.9,393.7 833.8,396.6 831.8,397.6 828.9,394.7"/>
<polygon fill="#a0ecc8" points="830.9,404.5 833.8,403.5 835.7,407.4 834.4,410.3 831.8,408.4"/>
<polygon fill="#a0ecc8" points="837.7,409.3 839.6,408.4 841,411.9 839.1,412.7"/>
<polygon fill="#8b1470" points="798,583.1 801.1,577.7 802.7,570.6 801.1,562.8 800.3,553.4 801.9,545.6 803.4,539.4 807.3,533.9 813.6,530.8 820.6,527.7 826.9,523.8 830,518.3 833.9,513.6 838.6,508.1 842.5,504.7 847.2,503.4 850.3,505.8 852.7,501.9 855,497.2 857.3,493.8 862.8,493.3 867.5,495.3 873.8,496.4 872.2,500.3 869.8,505 873.8,508.9 878.4,513.6 883.1,517.5 886.2,511.2 887.8,501.9 889.4,493.3 891.2,491.2 892.8,497.2 894.8,503.4 897.2,508.9 897.5,517.5 900.3,524.5 904.2,530 907.3,537.8 910.5,545.6 911.6,551.9 910.5,559.7 908.1,567.5 905,575.3 900.3,583.1 895.6,589.4 889.4,594.8 889,595.3 883.1,598.8 876.1,599.5 870.2,601.2 865.5,600 862,595.3 860.5,589.4 861.2,581.6 858.1,586.2 855,589.4 853.4,583.1 850.3,576.9 845.6,573.8 839.4,572.2 831.6,573 825.3,575.3 819.1,577.7 812.8,580.8 806.6,583.9 801.9,586.2 798.8,585.5"/>
<polygon fill="#8b1470" points="866.2,610.5 871.4,609.8 876.1,610.5 873.7,615.2 869.1,619.9 866.2,618.7 865.5,614.1"/>
<polygon fill="#6a28a8" points="954.6,585.3 956.5,585.9 957.6,590.4 958.4,594.9 961,597.4 964.2,596.8 961.6,600 958.4,602.5 955.3,605.7 951.4,608.9 948.2,611.8 946.6,610.8 949.5,607.6 948.2,604.4 949.5,602.5 952.1,601.2 954,597.4 955.3,593.6 954.4,589.1"/>
<polygon fill="#6a28a8" points="941.2,609.5 943.1,608.9 944.4,610.8 941.2,614 937.4,617.2 933.6,620.4 929.1,623.6 924.6,626.8 920.8,629.9 917,631.9 913.4,629.9 916.4,626.8 920.8,623.6 925.9,621 931,618.5 934.8,615.3 938.7,612.1"/>
<polygon fill="#a0a0a0" points="947.6,528.5 949.9,529.7 953.9,535.5 952.3,536.2 948.7,532"/>
</svg>
<div id="legend">
<div class="hd"></div><span class="ht" id="h1" style="top:5px;left:1.5px;transform:scaleX(0.935)">IMF 2008 estimates</span><span class="ht" id="h2" style="top:17px;transform:scaleX(0.995)">(international dollars)</span>
<div class="bar"></div>
<div class="tk" style="top:44px"></div>
<div class="tk" style="top:92px"></div>
<div class="tk" style="top:151px"></div>
<div class="tk" style="top:192px"></div>
<div class="lb" style="top:39.4px">50,000 +</div>
<div class="lb" style="top:87.2px">30,000</div>
<div class="lb" style="top:146.2px">10,000</div>
<div class="lb" style="top:187.2px">1,000</div>
</div>
<div id="cap">GDP (PPP) Per Capita</div>
<div class="note" id="n1" style="top:697.3px;transform:scaleX(1.028)">[(PPP): purchasing power parity: is a theory of long-term equilibrium exchange rates based on relative price levels of two countries. In other</div>
<div class="note" id="n2" style="top:716.2px;transform:scaleX(1.029)">words, PPP allows you to compare the standard of living between countries by taking into account the impact of their exchange rates..]</div>
</body>
</html>
